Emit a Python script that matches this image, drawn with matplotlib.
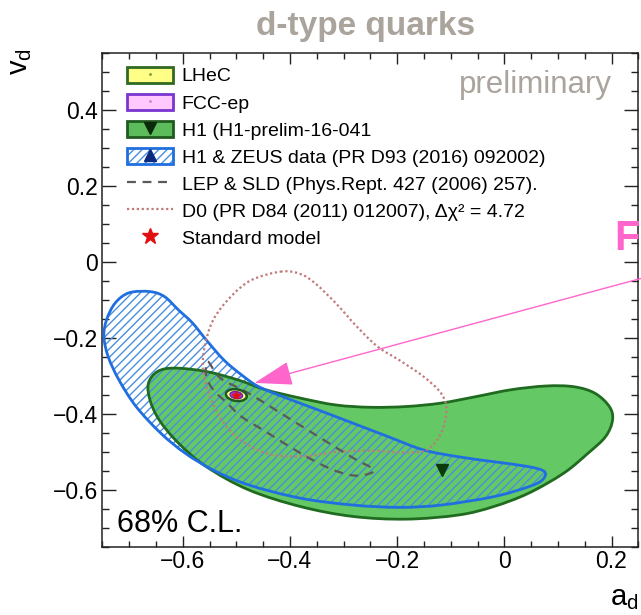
import numpy as np
import matplotlib
matplotlib.use("Agg")
import matplotlib.pyplot as plt
from matplotlib.path import Path
from matplotlib.patches import PathPatch, Patch, Ellipse
from matplotlib.lines import Line2D
from matplotlib.ticker import MultipleLocator, FuncFormatter

plt.rcParams['font.family'] = ['Liberation Sans', 'DejaVu Sans']
plt.rcParams['mathtext.fontset'] = 'custom'
plt.rcParams['mathtext.rm'] = 'Liberation Sans'
plt.rcParams['mathtext.it'] = 'Liberation Sans'
plt.rcParams['hatch.linewidth'] = 1.0

# ---- 68% C.L. contours in the (a_d, v_d) plane ----
h1zeus_a = [-0.747, -0.742, -0.726, -0.700, -0.661, -0.634, -0.608, -0.582, -0.556,
            -0.523, -0.490, -0.458, -0.406, -0.347, -0.282, -0.217, -0.151, -0.086,
            -0.020, 0.045, 0.075, 0.071, 0.045, -0.020, -0.118, -0.196, -0.282,
            -0.380, -0.477, -0.543, -0.595, -0.641, -0.687, -0.719, -0.739]
h1zeus_v = [-0.196, -0.152, -0.108, -0.081, -0.078, -0.091, -0.126, -0.160, -0.205,
            -0.258, -0.297, -0.328, -0.358, -0.389, -0.424, -0.459, -0.494, -0.512,
            -0.525, -0.538, -0.551, -0.573, -0.591, -0.617, -0.639, -0.645, -0.639,
            -0.621, -0.586, -0.547, -0.503, -0.450, -0.380, -0.310, -0.249]

h1_a = [-0.664, -0.647, -0.615, -0.556, -0.497, -0.445, -0.380, -0.314, -0.249,
        -0.183, -0.118, -0.053, 0.012, 0.078, 0.130, 0.169, 0.196, 0.202, 0.189,
        0.156, 0.111, 0.045, -0.020, -0.085, -0.183, -0.282, -0.380, -0.477,
        -0.556, -0.608, -0.644, -0.661]
h1_v = [-0.319, -0.288, -0.279, -0.288, -0.310, -0.336, -0.358, -0.376, -0.382,
        -0.380, -0.371, -0.354, -0.336, -0.326, -0.328, -0.345, -0.380, -0.415,
        -0.459, -0.503, -0.555, -0.608, -0.643, -0.665, -0.676, -0.669, -0.643,
        -0.599, -0.538, -0.476, -0.415, -0.363]

d0_a = [-0.415, -0.471, -0.510, -0.543, -0.559, -0.562, -0.549, -0.523, -0.484,
        -0.432, -0.366, -0.314, -0.249, -0.183, -0.144, -0.118, -0.108, -0.118,
        -0.151, -0.196, -0.236, -0.275, -0.314, -0.353, -0.380]
d0_v = [-0.025, -0.047, -0.091, -0.152, -0.223, -0.284, -0.354, -0.424, -0.476,
        -0.507, -0.510, -0.499, -0.496, -0.501, -0.494, -0.450, -0.389, -0.345,
        -0.301, -0.258, -0.223, -0.170, -0.109, -0.056, -0.032]

lep_a = [-0.553, -0.530, -0.477, -0.412, -0.347, -0.281, -0.249, -0.244, -0.262,
         -0.288, -0.327, -0.380, -0.445, -0.490, -0.517, -0.543, -0.556]
lep_v = [-0.262, -0.305, -0.345, -0.402, -0.459, -0.516, -0.540, -0.551, -0.560,
         -0.560, -0.542, -0.503, -0.446, -0.407, -0.371, -0.336, -0.300]

# best-fit points and Standard Model
h1_best = (-0.117, -0.547)
sm_point = (-0.500, -0.350)
lhec_size = (0.040, 0.030)
fcc_size = (0.024, 0.018)

# arrow from the FCC-ep label to the SM point
arrow_tail = (0.29, -0.030)
arrow_head = (-0.466, -0.318)

legend_labels = ["LHeC", "FCC-ep", "H1 (H1-prelim-16-041",
                 "H1 & ZEUS data (PR D93 (2016) 092002)",
                 "LEP & SLD (Phys.Rept. 427 (2006) 257).",
                 "D0 (PR D84 (2011) 012007), \u0394\u03c7\u00b2 = 4.72",
                 "Standard model"]

green_fill = '#64c864'
green_edge = '#1f6b1f'
blue_edge = '#1f6fe0'
blue_hatch = '#4a8ee0'
d0_col = '#c07a7a'
lep_col = '#5a5a5a'
pink = '#ff66cc'
grey_txt = '#aaa49c'


def smooth_closed(xs, ys):
    pts = np.column_stack([xs, ys])
    n = len(pts)
    verts = [pts[0]]
    codes = [Path.MOVETO]
    for i in range(n):
        p0, p1, p2, p3 = pts[i - 1], pts[i], pts[(i + 1) % n], pts[(i + 2) % n]
        verts += [p1 + (p2 - p0) / 6.0, p2 - (p3 - p1) / 6.0, p2]
        codes += [Path.CURVE4] * 3
    verts.append(pts[0])
    codes.append(Path.CLOSEPOLY)
    return Path(verts, codes)


def tick_fmt(v, pos):
    s = '%g' % round(v, 6)
    return s.replace('-', '\u2212')


fig = plt.figure(figsize=(6.41, 6.15), dpi=100)
ax = fig.add_axes([102.3 / 641, 1 - 547.3 / 615, 536.0 / 641, 494.6 / 615])
ax.set_xlim(-0.75, 0.25)
ax.set_ylim(-0.75, 0.55)

p_h1 = smooth_closed(h1_a, h1_v)
p_hz = smooth_closed(h1zeus_a, h1zeus_v)

ax.add_patch(PathPatch(p_h1, facecolor=green_fill, edgecolor='none', zorder=1))
ax.add_patch(PathPatch(p_hz, facecolor='none', edgecolor=blue_hatch, hatch='////',
                       lw=0, zorder=2))
ax.add_patch(PathPatch(p_h1, facecolor='none', edgecolor=green_edge, lw=2.0, zorder=3))
ax.add_patch(PathPatch(p_hz, facecolor='none', edgecolor=blue_edge, lw=2.0, zorder=3))
ax.add_patch(PathPatch(smooth_closed(d0_a, d0_v), facecolor='none', edgecolor=d0_col,
                       lw=1.6, linestyle=(0, (1, 1.2)), zorder=4))
ax.add_patch(PathPatch(smooth_closed(lep_a, lep_v), facecolor='none', edgecolor=lep_col,
                       lw=1.6, linestyle=(0, (4, 3)), zorder=4))

ax.plot([h1_best[0]], [h1_best[1]], marker='v', color='#0b3a0b', ms=9, ls='none', zorder=5)

ax.add_patch(Ellipse(sm_point, lhec_size[0], lhec_size[1], angle=-20,
                     facecolor='#ffff88', edgecolor='#1f5a1f', lw=1.8, zorder=6))
ax.add_patch(Ellipse(sm_point, fcc_size[0], fcc_size[1], angle=-20,
                     facecolor='#a040c0', edgecolor='#7020b0', lw=1.0, zorder=7))
ax.plot([sm_point[0]], [sm_point[1]], marker='*', color='#e01010', ms=6, ls='none', zorder=8)

ax.annotate('', xy=arrow_head, xytext=arrow_tail, annotation_clip=False,
            arrowprops=dict(arrowstyle='-|>,head_length=1.2,head_width=0.38',
                            mutation_scale=20, color=pink, lw=1.0,
                            shrinkA=0, shrinkB=0), zorder=9)

# axes styling
ax.xaxis.set_major_locator(MultipleLocator(0.2))
ax.xaxis.set_minor_locator(MultipleLocator(0.05))
ax.yaxis.set_major_locator(MultipleLocator(0.2))
ax.yaxis.set_minor_locator(MultipleLocator(0.05))
ax.xaxis.set_major_formatter(FuncFormatter(tick_fmt))
ax.yaxis.set_major_formatter(FuncFormatter(tick_fmt))
ax.tick_params(axis='both', which='both', direction='in', top=True, right=True,
               labelsize=16.5, width=1.0, color='#222222')
ax.tick_params(axis='x', which='major', length=8, pad=2)
ax.tick_params(axis='x', which='minor', length=4.5)
ax.tick_params(axis='y', which='major', length=10, pad=3)
ax.tick_params(axis='y', which='minor', length=5)
for s in ax.spines.values():
    s.set_linewidth(1.1)
    s.set_color('#222222')

fig.text(638 / 641, 1 - 598 / 615, r'$a_{d}$', ha='right', va='center', fontsize=21)
fig.text(20 / 641, 1 - 48 / 615, r'$v_{d}$', rotation=90, ha='center', va='top', fontsize=21)

fig.text(366 / 641, 1 - 26 / 615, 'd-type quarks', ha='center', va='center',
         fontsize=24, fontweight='bold', color=grey_txt)
fig.text(612 / 641, 1 - 85 / 615, 'preliminary', ha='right', va='center',
         fontsize=22.5, color=grey_txt)
fig.text(117 / 641, 1 - 532 / 615, '68% C.L.', ha='left', va='baseline', fontsize=22)
fig.text(614 / 641, 1 - 250 / 615, 'FCC-ep', ha='left', va='baseline', fontsize=30,
         fontweight='bold', color=pink)

# legend
handles = [
    (Patch(facecolor='#ffff88', edgecolor='#2f6a22', lw=2.0),
     Line2D([], [], marker='.', ms=2, color='#7a9a3a', ls='none')),
    (Patch(facecolor='#ffc8ff', edgecolor='#7a34d0', lw=2.0),
     Line2D([], [], marker='.', ms=2, color='#d080d0', ls='none')),
    (Patch(facecolor='#5cbc5c', edgecolor='#1f5a1f', lw=2.0),
     Line2D([], [], marker='v', ms=9, color='#0b2a0b', ls='none')),
    (Patch(facecolor='white', edgecolor=blue_hatch, hatch='////', lw=0),
     Patch(facecolor='none', edgecolor=blue_edge, lw=2.0),
     Line2D([], [], marker='^', ms=9, color='#0a2a80', ls='none')),
    Line2D([], [], color=lep_col, lw=1.6, ls=(0, (4, 3))),
    Line2D([], [], color=d0_col, lw=1.6, ls=(0, (1, 1.2))),
    Line2D([], [], marker='*', ms=12, color='#e01010', ls='none'),
]
fig.legend(handles, legend_labels, loc='upper left',
           bbox_to_anchor=(126.7 / 641, 1 - 67 / 615), bbox_transform=fig.transFigure,
           frameon=False, fontsize=14, borderpad=0, borderaxespad=0,
           handlelength=2.4, handleheight=0.85, handletextpad=0.43, labelspacing=0.44)

fig.savefig('out.png', dpi=100)
